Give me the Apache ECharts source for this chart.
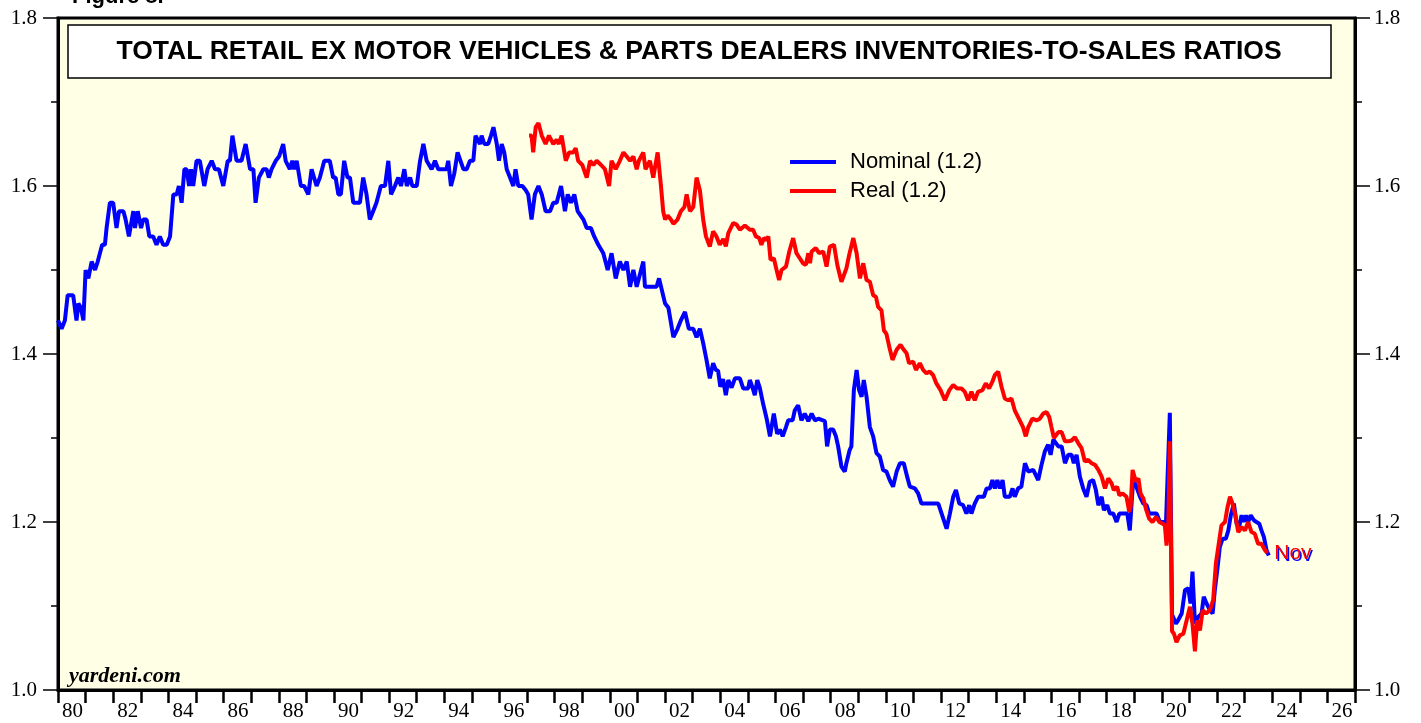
<!DOCTYPE html>
<html>
<head>
<meta charset="utf-8">
<script src="https://cdn.jsdelivr.net/npm/echarts/dist/echarts.min.js"></script>
<style>
html, body { margin: 0; padding: 0; background: #fff; }
#chart { width: 1421px; height: 723px; }
</style>
</head>
<body>
<div id="chart"></div>
<script>
// [decimal year, inventories-to-sales ratio]
const nominal1980s = [
  [1980.0,1.44],[1980.13,1.43],[1980.25,1.44],[1980.35,1.47],[1980.55,1.47],[1980.67,1.44],[1980.74,1.46],[1980.83,1.455],[1980.92,1.44],
  [1981.0,1.50],[1981.1,1.49],[1981.22,1.51],[1981.34,1.50],[1981.44,1.51],[1981.6,1.53],[1981.7,1.53],[1981.76,1.55],[1981.88,1.58],
  [1982.0,1.58],[1982.12,1.55],[1982.21,1.57],[1982.37,1.57],[1982.45,1.56],[1982.57,1.54],[1982.73,1.57],[1982.79,1.55],[1982.89,1.57],
  [1983.01,1.55],[1983.09,1.56],[1983.21,1.56],[1983.31,1.54],[1983.45,1.54],[1983.57,1.53],[1983.69,1.54],[1983.81,1.53],[1983.94,1.53],
  [1984.06,1.54],[1984.18,1.59],[1984.3,1.59],[1984.38,1.60],[1984.48,1.58],[1984.58,1.62],[1984.66,1.62],[1984.75,1.60],[1984.82,1.62],[1984.9,1.60],
  [1985.02,1.63],[1985.14,1.63],[1985.3,1.60],[1985.42,1.62],[1985.57,1.63],[1985.69,1.62],[1985.83,1.62],[1985.99,1.60],
  [1986.15,1.63],[1986.23,1.63],[1986.32,1.66],[1986.47,1.63],[1986.65,1.63],[1986.8,1.65],[1986.96,1.62],
  [1987.08,1.62],[1987.16,1.58],[1987.28,1.61],[1987.44,1.62],[1987.56,1.62],[1987.64,1.61],[1987.74,1.62],[1987.89,1.63],
  [1988.01,1.635],[1988.16,1.65],[1988.25,1.63],[1988.4,1.62],[1988.49,1.63],[1988.56,1.62],[1988.65,1.63],[1988.8,1.60],[1988.92,1.60],
  [1989.07,1.59],[1989.19,1.62],[1989.25,1.62],[1989.37,1.60],[1989.49,1.61],[1989.65,1.63],[1989.85,1.63],[1989.97,1.61]
]
const nominal1990s = [
  [1990.06,1.61],[1990.16,1.59],[1990.25,1.59],[1990.37,1.63],[1990.49,1.61],[1990.58,1.61],[1990.7,1.58],[1990.94,1.58],
  [1991.06,1.61],[1991.18,1.59],[1991.3,1.56],[1991.42,1.57],[1991.54,1.58],[1991.7,1.60],[1991.85,1.60],[1991.97,1.63],
  [1992.07,1.59],[1992.21,1.60],[1992.33,1.61],[1992.43,1.60],[1992.55,1.62],[1992.64,1.60],[1992.76,1.61],[1992.84,1.60],
  [1993.0,1.60],[1993.12,1.63],[1993.24,1.65],[1993.36,1.63],[1993.54,1.62],[1993.66,1.63],[1993.78,1.62],
  [1994.08,1.62],[1994.14,1.63],[1994.24,1.60],[1994.36,1.615],[1994.48,1.64],[1994.69,1.62],[1994.81,1.62],[1994.93,1.63],
  [1995.05,1.63],[1995.13,1.66],[1995.29,1.65],[1995.35,1.66],[1995.45,1.65],[1995.59,1.65],[1995.69,1.66],[1995.78,1.67],[1995.9,1.65],[1995.98,1.63],
  [1996.08,1.65],[1996.17,1.64],[1996.26,1.62],[1996.38,1.61],[1996.5,1.60],[1996.58,1.62],[1996.68,1.60],[1996.83,1.60],[1996.95,1.595],
  [1997.04,1.59],[1997.16,1.56],[1997.28,1.59],[1997.41,1.60],[1997.53,1.59],[1997.67,1.57],[1997.83,1.57],[1997.95,1.58],
  [1998.07,1.58],[1998.23,1.60],[1998.37,1.57],[1998.47,1.59],[1998.59,1.58],[1998.71,1.59],[1998.83,1.57],
  [1999.04,1.56],[1999.16,1.55],[1999.31,1.55],[1999.43,1.54],[1999.58,1.53],[1999.76,1.52],[1999.92,1.50]
]
const nominal2000s = [
  [2000.06,1.52],[2000.21,1.49],[2000.36,1.51],[2000.49,1.50],[2000.61,1.51],[2000.73,1.48],[2000.85,1.50],[2000.97,1.48],
  [2001.21,1.51],[2001.27,1.48],[2001.69,1.48],[2001.78,1.49],[2002.0,1.46],[2002.12,1.455],[2002.3,1.42],[2002.45,1.43],
  [2002.57,1.44],[2002.72,1.45],[2002.86,1.43],[2003.02,1.43],[2003.14,1.42],[2003.26,1.43],[2003.38,1.413],[2003.5,1.393],
  [2003.62,1.371],[2003.74,1.389],[2003.84,1.381],[2003.92,1.38],[2004.0,1.361],[2004.1,1.37],[2004.2,1.351],[2004.29,1.369],
  [2004.41,1.36],[2004.53,1.371],[2004.71,1.371],[2004.83,1.359],[2005.01,1.359],[2005.07,1.369],[2005.17,1.36],[2005.25,1.351],
  [2005.34,1.369],[2005.43,1.36],[2005.55,1.341],[2005.68,1.323],[2005.8,1.302],[2005.94,1.329],[2006.06,1.305],[2006.16,1.31],
  [2006.26,1.302],[2006.38,1.313],[2006.46,1.321],[2006.62,1.321],[2006.7,1.333],[2006.82,1.339],[2006.94,1.321],[2007.06,1.329],
  [2007.19,1.32],[2007.31,1.329],[2007.43,1.321],[2007.55,1.323],[2007.79,1.32],[2007.87,1.29],[2007.97,1.31],[2008.09,1.31],
  [2008.19,1.302],[2008.27,1.29],[2008.39,1.266],[2008.51,1.26],[2008.57,1.27],[2008.69,1.286],[2008.75,1.29],[2008.84,1.357],
  [2008.94,1.381],[2009.03,1.357],[2009.12,1.349],[2009.2,1.369],[2009.3,1.349],[2009.42,1.313],[2009.54,1.302],[2009.66,1.282],
  [2009.78,1.278],[2009.9,1.262]
]
const nominal2010s = [
  [2010.02,1.26],[2010.14,1.25],[2010.26,1.242],[2010.39,1.26],[2010.51,1.27],[2010.65,1.27],[2010.77,1.254],[2010.87,1.242],
  [2011.05,1.24],[2011.17,1.234],[2011.29,1.222],[2011.9,1.222],[2012.02,1.21],[2012.2,1.192],[2012.32,1.21],[2012.44,1.23],
  [2012.54,1.238],[2012.66,1.222],[2012.8,1.22],[2012.92,1.21],[2013.02,1.22],[2013.1,1.21],[2013.22,1.222],[2013.34,1.23],
  [2013.55,1.23],[2013.65,1.24],[2013.77,1.24],[2013.86,1.25],[2013.95,1.24],[2014.04,1.25],[2014.13,1.24],[2014.23,1.25],
  [2014.31,1.23],[2014.49,1.23],[2014.59,1.24],[2014.67,1.23],[2014.79,1.24],[2014.91,1.242],[2015.04,1.27],[2015.16,1.26],
  [2015.34,1.262],[2015.52,1.25],[2015.64,1.268],[2015.76,1.284],[2015.88,1.292],[2015.97,1.28],[2016.07,1.298],[2016.25,1.29],
  [2016.37,1.29],[2016.49,1.27],[2016.61,1.28],[2016.73,1.28],[2016.81,1.27],[2016.91,1.28],[2017.03,1.254],[2017.15,1.24],
  [2017.27,1.23],[2017.39,1.248],[2017.51,1.25],[2017.61,1.238],[2017.7,1.22],[2017.82,1.23],[2017.9,1.214],[2018.02,1.22],
  [2018.12,1.21],[2018.24,1.21],[2018.36,1.20],[2018.46,1.21],[2018.66,1.21],[2018.75,1.21],[2018.84,1.19],[2018.96,1.25],
  [2019.08,1.242],[2019.21,1.23],[2019.33,1.222],[2019.45,1.22],[2019.54,1.21],[2019.69,1.21],[2019.81,1.21],[2019.93,1.20]
]
const nominal2020s = [
  [2020.05,1.20],[2020.15,1.198],[2020.21,1.20],[2020.29,1.33],[2020.37,1.09],[2020.51,1.079],[2020.59,1.083],[2020.72,1.091],
  [2020.84,1.119],[2020.96,1.121],[2021.04,1.103],[2021.11,1.141],[2021.2,1.079],[2021.32,1.087],[2021.44,1.091],[2021.52,1.111],
  [2021.62,1.103],[2021.74,1.095],[2021.84,1.091],[2021.92,1.119],[2022.01,1.143],[2022.1,1.17],[2022.2,1.18],[2022.32,1.18],
  [2022.41,1.19],[2022.5,1.208],[2022.61,1.222],[2022.71,1.198],[2022.8,1.194],[2022.89,1.208],[2022.97,1.20],[2023.05,1.208],
  [2023.13,1.20],[2023.22,1.208],[2023.34,1.202],[2023.43,1.20],[2023.53,1.198],[2023.61,1.19],[2023.7,1.182],[2023.79,1.167],
  [2023.875,1.16]
]
const real1990s = [
  [1997.07,1.66],[1997.16,1.66],[1997.22,1.64],[1997.31,1.67],[1997.41,1.675],[1997.53,1.66],[1997.67,1.65],[1997.79,1.66],
  [1997.95,1.65],[1998.07,1.655],[1998.15,1.65],[1998.25,1.66],[1998.4,1.63],[1998.52,1.64],[1998.67,1.64],[1998.76,1.645],
  [1998.85,1.63],[1999.0,1.625],[1999.16,1.61],[1999.28,1.63],[1999.4,1.625],[1999.52,1.63],[1999.68,1.625],[1999.82,1.62],
  [1999.97,1.60]
]
const real2000s = [
  [2000.06,1.63],[2000.21,1.62],[2000.36,1.63],[2000.49,1.64],[2000.61,1.635],[2000.73,1.63],[2000.85,1.635],[2000.97,1.62],
  [2001.05,1.63],[2001.21,1.64],[2001.29,1.62],[2001.45,1.63],[2001.57,1.61],[2001.73,1.64],[2001.85,1.60],[2001.93,1.57],
  [2002.0,1.56],[2002.09,1.565],[2002.21,1.56],[2002.3,1.555],[2002.45,1.56],[2002.57,1.57],[2002.7,1.575],[2002.78,1.59],
  [2002.9,1.57],[2003.02,1.575],[2003.14,1.61],[2003.26,1.595],[2003.38,1.56],[2003.48,1.54],[2003.62,1.528],[2003.74,1.546],
  [2003.86,1.54],[2003.98,1.53],[2004.11,1.537],[2004.2,1.528],[2004.29,1.544],[2004.47,1.556],[2004.59,1.554],[2004.71,1.548],
  [2004.89,1.553],[2005.07,1.548],[2005.19,1.548],[2005.29,1.54],[2005.41,1.538],[2005.49,1.53],[2005.58,1.538],[2005.68,1.536],
  [2005.74,1.54],[2005.82,1.512],[2005.94,1.514],[2006.04,1.50],[2006.13,1.488],[2006.22,1.50],[2006.38,1.504],[2006.5,1.522],
  [2006.64,1.538],[2006.76,1.52],[2006.88,1.514],[2007.0,1.508],[2007.1,1.506],[2007.19,1.52],[2007.25,1.508],[2007.31,1.522],
  [2007.46,1.526],[2007.58,1.52],[2007.73,1.522],[2007.85,1.504],[2007.97,1.528],[2008.12,1.53],[2008.24,1.506],[2008.39,1.486],
  [2008.57,1.502],[2008.67,1.518],[2008.82,1.538],[2008.94,1.52],[2009.06,1.49],[2009.18,1.508],[2009.3,1.488],[2009.42,1.486],
  [2009.54,1.47],[2009.64,1.468],[2009.72,1.456],[2009.84,1.452],[2009.93,1.428]
]
const real2010s = [
  [2010.02,1.424],[2010.12,1.409],[2010.24,1.393],[2010.39,1.405],[2010.53,1.411],[2010.65,1.405],[2010.75,1.401],[2010.84,1.389],
  [2010.99,1.391],[2011.09,1.381],[2011.23,1.389],[2011.35,1.381],[2011.47,1.377],[2011.59,1.379],[2011.71,1.375],[2011.83,1.365],
  [2011.98,1.357],[2012.14,1.345],[2012.3,1.357],[2012.44,1.363],[2012.58,1.359],[2012.74,1.359],[2012.86,1.355],[2012.98,1.345],
  [2013.1,1.355],[2013.22,1.345],[2013.34,1.355],[2013.5,1.357],[2013.62,1.365],[2013.74,1.359],[2013.86,1.367],[2013.95,1.375],
  [2014.07,1.379],[2014.19,1.361],[2014.31,1.347],[2014.43,1.345],[2014.55,1.347],[2014.67,1.333],[2014.85,1.321],[2014.97,1.313],
  [2015.07,1.302],[2015.16,1.313],[2015.31,1.323],[2015.46,1.321],[2015.58,1.323],[2015.7,1.329],[2015.82,1.331],[2015.92,1.325],
  [2016.0,1.313],[2016.09,1.30],[2016.25,1.307],[2016.37,1.307],[2016.49,1.296],[2016.61,1.296],[2016.73,1.297],[2016.85,1.301],
  [2016.97,1.294],[2017.09,1.288],[2017.21,1.272],[2017.33,1.274],[2017.45,1.27],[2017.58,1.268],[2017.7,1.262],[2017.82,1.254],
  [2017.94,1.24],[2018.06,1.252],[2018.18,1.246],[2018.26,1.238],[2018.38,1.242],[2018.46,1.232],[2018.58,1.234],[2018.72,1.23],
  [2018.82,1.212],[2018.87,1.218],[2018.94,1.262],[2019.06,1.248],[2019.15,1.252],[2019.23,1.234],[2019.33,1.228],[2019.42,1.216],
  [2019.54,1.204],[2019.66,1.20],[2019.79,1.206],[2019.91,1.20]
]
const real2020s = [
  [2020.03,1.198],[2020.11,1.196],[2020.17,1.172],[2020.23,1.19],[2020.29,1.296],[2020.37,1.07],[2020.44,1.067],[2020.53,1.057],
  [2020.65,1.065],[2020.78,1.067],[2020.9,1.083],[2021.02,1.099],[2021.11,1.079],[2021.2,1.046],[2021.28,1.083],[2021.38,1.071],
  [2021.48,1.095],[2021.6,1.091],[2021.74,1.095],[2021.86,1.107],[2021.96,1.151],[2022.08,1.178],[2022.16,1.196],[2022.29,1.20],
  [2022.37,1.216],[2022.47,1.23],[2022.56,1.222],[2022.65,1.21],[2022.77,1.188],[2022.89,1.194],[2023.01,1.19],[2023.13,1.20],
  [2023.25,1.188],[2023.37,1.186],[2023.49,1.174],[2023.61,1.174],[2023.73,1.167],[2023.82,1.163]
]
const nominal = [].concat(nominal1980s, nominal1990s, nominal2000s, nominal2010s, nominal2020s)
const real = [].concat(real1990s, real2000s, real2010s, real2020s)

const seriesNames = ['Nominal (1.2)', 'Real (1.2)']
const lastLabel = 'Nov'
const titleText = 'TOTAL RETAIL EX MOTOR VEHICLES & PARTS DEALERS INVENTORIES-TO-SALES RATIOS'

const serif = 'Liberation Serif, Times New Roman, serif'
const sans = 'Liberation Sans, Arial, Helvetica, sans-serif'

const chart = echarts.init(document.getElementById('chart'))

const yAxisBase = {
    type: 'value',
    min: 1.0,
    max: 1.8,
    interval: 0.2,
    splitLine: { show: false },
    axisLine: { show: true, lineStyle: { color: '#000', width: 3 } },
    axisTick: { show: true, length: 15, lineStyle: { color: '#000', width: 1.5 } },
    minorTick: { show: true, splitNumber: 2, length: 7, lineStyle: { color: '#000', width: 1.5 } },
    axisLabel: {
        color: '#000',
        fontFamily: serif,
        fontSize: 21,
        formatter: v => v.toFixed(1)
    }
}

const option = {
    animation: false,
    backgroundColor: '#fff',
    grid: {
        left: 58,
        right: 66,
        top: 18,
        bottom: 33,
        show: true,
        backgroundColor: '#FFFFE6',
        borderColor: '#000',
        borderWidth: 3,
        outerBoundsMode: 'none'
    },
    xAxis: {
        type: 'value',
        min: 1980,
        max: 2027,
        interval: 1,
        splitLine: { show: false },
        axisLine: { show: true, lineStyle: { color: '#000', width: 3 } },
        axisTick: { show: true, length: 13, lineStyle: { color: '#000', width: 2.5 } },
        axisLabel: {
            color: '#000',
            fontFamily: serif,
            fontSize: 21,
            margin: 11,
            align: 'left',
            padding: [0, 0, 0, 4],
            formatter: v => (v % 2 === 0 && v < 2027) ? String(v % 100).padStart(2, '0') : ''
        }
    },
    yAxis: [
        Object.assign({}, yAxisBase, { position: 'left', axisLabel: Object.assign({}, yAxisBase.axisLabel, { margin: 21 }) }),
        Object.assign({}, yAxisBase, { position: 'right', axisLabel: Object.assign({}, yAxisBase.axisLabel, { margin: 19 }) })
    ],
    legend: {
        orient: 'vertical',
        left: 790,
        top: 151,
        padding: 0,
        icon: 'rect',
        itemWidth: 46,
        itemHeight: 4,
        itemGap: 7,
        textStyle: { color: '#000', fontFamily: sans, fontSize: 22, lineHeight: 22, padding: [0, 0, 0, 9] },
        data: seriesNames
    },
    graphic: [
        {
            type: 'rect',
            z: 10,
            shape: { x: 68, y: 25, width: 1263, height: 53 },
            style: { fill: '#fff', stroke: '#000', lineWidth: 1.5 }
        },
        {
            type: 'text',
            z: 11,
            x: 699,
            y: 52,
            style: {
                text: titleText,
                fill: '#000',
                font: 'bold 26.5px ' + sans,
                textAlign: 'center',
                textVerticalAlign: 'middle'
            }
        },
        {
            type: 'text',
            z: 11,
            x: 72,
            y: -14,
            style: { text: 'Figure 8.', fill: '#000', font: 'bold 22px ' + sans, textVerticalAlign: 'top' }
        },
        {
            type: 'text',
            z: 11,
            x: 69,
            y: 676,
            style: {
                text: 'yardeni.com',
                fill: '#000',
                font: 'italic bold 22px ' + serif,
                textVerticalAlign: 'middle'
            }
        }
    ],
    series: [
        {
            name: seriesNames[0],
            type: 'line',
            data: nominal,
            symbol: 'none',
            color: '#0000FF',
            lineStyle: { color: '#0000FF', width: 4 },
            endLabel: { show: true, formatter: lastLabel, color: '#0000FF', fontFamily: sans, fontSize: 21, distance: 7 }
        },
        {
            name: seriesNames[1],
            type: 'line',
            data: real,
            symbol: 'none',
            color: '#FF0000',
            lineStyle: { color: '#FF0000', width: 4 },
            endLabel: { show: true, formatter: lastLabel, color: '#FF0000', fontFamily: sans, fontSize: 21, distance: 7 }
        }
    ]
}

chart.setOption(option)
</script>
</body>
</html>
